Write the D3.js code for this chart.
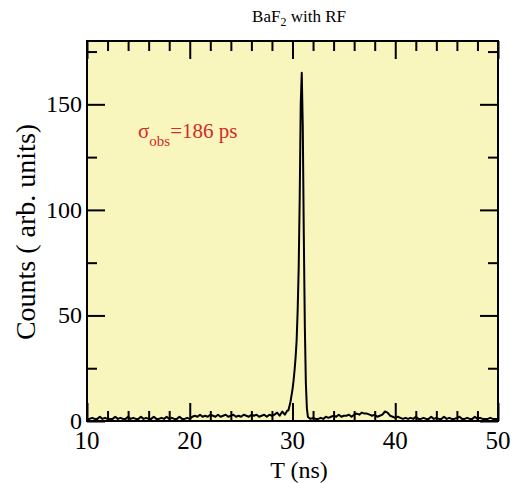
<!DOCTYPE html>
<html>
<head>
<meta charset="utf-8">
<script src="https://cdn.jsdelivr.net/npm/d3@7"></script>
<style>
  body { margin: 0; background: #fff; }
  svg { display: block; font-family: "Liberation Serif", "Times New Roman", serif; }
</style>
</head>
<body>
<svg width="516" height="483"></svg>
<script>
// counts, three bin segments
// 10.00 - 29.50 ns, 0.25 ns bins
let preCounts = [
  1, 1, 1.5, 1, 1, 2, 1, 1.5, 1,
  1, 1, 2, 1, 1.5, 1, 1, 2,
  1, 1.5, 1, 1, 2, 1, 1.5, 1,
  1, 2, 1, 1, 1.5, 1, 2, 1,
  1.5, 1, 1, 2, 1, 1, 1.5, 1,
  2, 2.5, 2, 3, 2, 2.5, 2, 3,
  2.5, 2, 3, 2, 2.5, 3, 2, 2.5,
  3, 2, 2.5, 2, 3, 2.5, 2, 3,
  2.5, 3, 2, 2.5, 3, 2, 3, 2.5,
  3, 4, 2.5, 4.5, 3, 5
];
// 29.6 - 31.6 ns, 0.1 ns bins
let peakCounts = [
  5, 7, 9, 12, 15, 19, 24, 30, 38, 52, 72,
  105, 150, 165, 140, 88, 45, 18, 6, 2, 1.5
];
// 31.75 - 50.00 ns, 0.25 ns bins
let postCounts = [
  1, 1.5, 1, 1, 1.5, 1,
  2, 1.5, 2, 2.5, 2, 3, 2, 2.5,
  2.5, 3, 2, 3, 3.5, 3, 4, 3.5,
  3.5, 3, 2.5, 3, 2, 2.5, 3, 4.5,
  4, 2.5, 2, 1.5, 2, 1.5, 1, 1.5,
  1, 1.5, 1, 2, 1, 1, 1.5, 1,
  1, 2, 1, 1.5, 1, 1, 2, 1,
  1.5, 1, 1, 1.5, 2, 1, 1, 1.5,
  1, 1, 2, 1, 1.5, 1, 1, 1,
  1.5, 1, 1, 1
];

let xMajor = [10, 20, 30, 40, 50];
let xMinor = [12, 14, 16, 18, 22, 24, 26, 28, 32, 34, 36, 38, 42, 44, 46, 48];
let yMajor = [0, 50, 100, 150];
let yMinor = [25, 75, 125, 175];

let data = [];
preCounts.forEach(function(c, i) { data.push([10 + i * 0.25, c]); });
peakCounts.forEach(function(c, i) { data.push([29.6 + i * 0.1, c]); });
postCounts.forEach(function(c, i) { data.push([31.75 + i * 0.25, c]); });

let svg = d3.select("svg");
let pLeft = 87, pRight = 498, pTop = 41, pBottom = 421;

let xScale = d3.scaleLinear().domain([10, 50]).range([pLeft, pRight]);
let yScale = d3.scaleLinear().domain([0, 180]).range([pBottom, pTop]);

svg.append("rect")
  .attr("x", pLeft).attr("y", pTop)
  .attr("width", pRight - pLeft).attr("height", pBottom - pTop)
  .attr("fill", "#f8f6bd");

// spectrum
svg.append("path")
  .datum(data)
  .attr("fill", "none")
  .attr("stroke", "#000")
  .attr("stroke-width", 2)
  .attr("stroke-linejoin", "round")
  .attr("d", d3.line()
    .x(function(d) { return xScale(d[0]); })
    .y(function(d) { return yScale(d[1]); }));

// ticks, all pointing inward
function ticks(axis, vals, size) {
  return axis.tickValues(vals).tickSize(size).tickFormat("");
}
let tickGroups = [
  [d3.axisBottom, xMinor, pBottom, "x", -10],
  [d3.axisBottom, xMajor, pBottom, "x", -18],
  [d3.axisTop, xMinor, pTop, "x", -10],
  [d3.axisTop, xMajor, pTop, "x", -18],
  [d3.axisLeft, yMinor, pLeft, "y", -10],
  [d3.axisLeft, yMajor, pLeft, "y", -18],
  [d3.axisRight, yMinor, pRight, "y", -10],
  [d3.axisRight, yMajor, pRight, "y", -18]
];
tickGroups.forEach(function(t) {
  let sc = t[3] == "x" ? xScale : yScale;
  let g = svg.append("g")
    .attr("transform", t[3] == "x" ? "translate(0," + t[2] + ")" : "translate(" + t[2] + ",0)")
    .call(ticks(t[0](sc), t[1], t[4]));
  g.select(".domain").remove();
  g.selectAll("line").attr("stroke", "#000").attr("stroke-width", 2);
});

// frame
svg.append("rect")
  .attr("x", pLeft).attr("y", pTop)
  .attr("width", pRight - pLeft).attr("height", pBottom - pTop)
  .attr("fill", "none")
  .attr("stroke", "#000")
  .attr("stroke-width", 2);

// tick labels
svg.append("g")
  .selectAll("text")
  .data(xMajor)
  .enter()
  .append("text")
  .attr("x", function(d) { return xScale(d); })
  .attr("y", 449)
  .attr("text-anchor", "middle")
  .attr("font-size", 25)
  .text(function(d) { return d; });

svg.append("g")
  .selectAll("text")
  .data(yMajor)
  .enter()
  .append("text")
  .attr("x", pLeft - 5)
  .attr("y", function(d) { return yScale(d) + 8; })
  .attr("text-anchor", "end")
  .attr("font-size", 24)
  .text(function(d) { return d; });

// axis titles
svg.append("text")
  .attr("x", 299).attr("y", 478)
  .attr("text-anchor", "middle")
  .attr("font-size", 24)
  .text("T (ns)");

svg.append("text")
  .attr("transform", "translate(35,232) rotate(-90)")
  .attr("text-anchor", "middle")
  .attr("font-size", 28)
  .text("Counts ( arb. units)");

// subtitle
let sub = svg.append("text")
  .attr("x", 299).attr("y", 22)
  .attr("text-anchor", "middle")
  .attr("font-size", 17);
sub.append("tspan").text("BaF");
sub.append("tspan").attr("font-size", 12).attr("dy", 4).text("2");
sub.append("tspan").attr("dy", -4).text(" with RF");

// resolution note
let note = svg.append("text")
  .attr("x", 138).attr("y", 138)
  .attr("fill", "#d42a2a")
  .attr("font-size", 21);
note.append("tspan").text("σ");
note.append("tspan").attr("font-size", 15).attr("dy", 8).text("obs");
note.append("tspan").attr("dy", -8).text("=186 ps");
</script>
</body>
</html>
